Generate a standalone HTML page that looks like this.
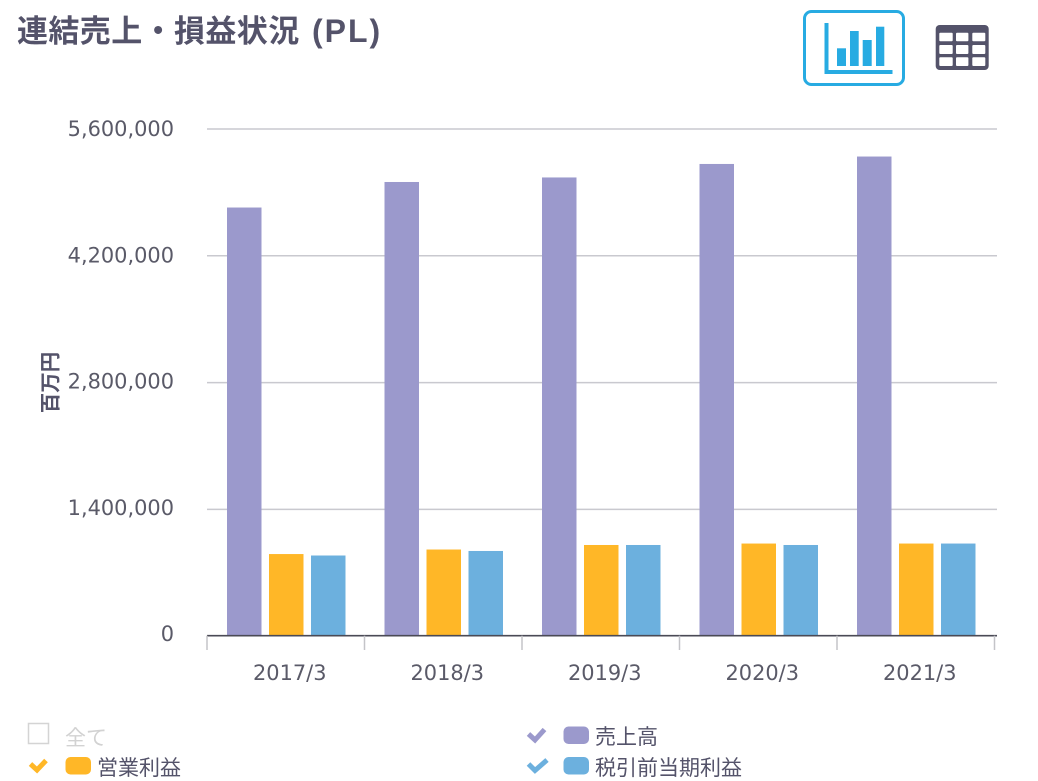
<!DOCTYPE html>
<html lang="ja">
<head>
<meta charset="utf-8">
<title>連結売上・損益状況 (PL)</title>
<style>
html,body{margin:0;padding:0;background:#fff;width:1038px;height:781px;overflow:hidden}
svg{position:absolute;left:0;top:0;display:block}
text{font-family:"Liberation Sans","Noto Sans CJK JP",sans-serif;fill:#54536a}
.num{font-family:"DejaVu Sans",sans-serif;font-size:20.9px;fill:#5a5a68}
</style>
</head>
<body>
<svg id="chart" width="1038" height="781" viewBox="0 0 1038 781" xmlns="http://www.w3.org/2000/svg">
  <text x="17" y="42" font-size="31" font-weight="700" letter-spacing="0.4">連結売上・損益状況<tspan x="312" font-size="32" letter-spacing="2">(PL)</tspan></text>

  <g>
    <rect x="804.5" y="11.5" width="99" height="73" rx="7" fill="#fff" stroke="#27abe2" stroke-width="3"/>
    <path d="M824.500 23V74H892.500V70H828.500V23Z" fill="#27abe2"/>
    <rect x="837" y="48.300" width="9" height="17.700" fill="#27abe2"/>
    <rect x="850" y="31" width="8.700" height="35" fill="#27abe2"/>
    <rect x="862.700" y="40" width="9" height="26" fill="#27abe2"/>
    <rect x="876" y="26.700" width="8.300" height="39.300" fill="#27abe2"/>
  </g>
  <g>
    <rect x="935.700" y="25" width="53" height="45" rx="4" fill="#54536a"/>
    <g fill="#fff">
      <rect x="939.300" y="32.700" width="13.400" height="8.600" rx="1"/><rect x="956" y="32.700" width="12.400" height="8.600" rx="1"/><rect x="972.300" y="32.700" width="13" height="8.600" rx="1"/>
      <rect x="939.300" y="45" width="13.400" height="9" rx="1"/><rect x="956" y="45" width="12.400" height="9" rx="1"/><rect x="972.300" y="45" width="13" height="9" rx="1"/>
      <rect x="939.300" y="57.300" width="13.400" height="8.700" rx="1"/><rect x="956" y="57.300" width="12.400" height="8.700" rx="1"/><rect x="972.300" y="57.300" width="13" height="8.700" rx="1"/>
    </g>
  </g>

  <g id="grid"></g>
  <g id="yticks"></g>
  <text transform="translate(57.500,382.500) rotate(-90)" text-anchor="middle" font-size="20.500" font-weight="700">百万円</text>
  <g id="bars"></g>
  <g id="xaxis"></g>

  <g>
    <rect x="28.500" y="723.500" width="20" height="20" fill="#fff" stroke="#d4d4d4" stroke-width="1.500"/>
    <text x="65" y="745" font-size="21" style="fill:#d2d2d2">全て</text>
  </g>
  <g>
    <path d="M30.500 764L37 770L46 760.500" fill="none" stroke="#ffb727" stroke-width="5"/>
    <rect x="65.500" y="757" width="25.500" height="17.500" rx="5" fill="#ffb727"/>
    <text x="97" y="775" font-size="21">営業利益</text>
  </g>
  <g>
    <path d="M528.500 734L535 740L544.500 729.500" fill="none" stroke="#9b99cc" stroke-width="5"/>
    <rect x="563.500" y="726.500" width="25.500" height="17.500" rx="5" fill="#9b99cc"/>
    <text x="595" y="744" font-size="21">売上高</text>
  </g>
  <g>
    <path d="M528.500 764L535 770.500L547 760" fill="none" stroke="#6cb0de" stroke-width="5"/>
    <rect x="563.500" y="757" width="25.500" height="17.500" rx="5" fill="#6cb0de"/>
    <text x="595" y="775" font-size="21">税引前当期利益</text>
  </g>
</svg>
<script>
const categories = ['2017/3', '2018/3', '2019/3', '2020/3', '2021/3'];
const sales = [4733000, 5015000, 5065000, 5214000, 5296000];
const operatingProfit = [907000, 957000, 1007000, 1023000, 1023000];
const pretaxProfit = [891000, 941000, 1007000, 1007000, 1023000];
const yTickValues = [0, 1400000, 2800000, 4200000, 5600000];
const yTickLabels = ['0', '1,400,000', '2,800,000', '4,200,000', '5,600,000'];

const NS = 'http://www.w3.org/2000/svg';
const plotLeft = 207, plotRight = 994.5, gridRight = 997, scaleBaseY = 636.2, topY = 129, axisY = 635.7, barBottom = 636, yMax = 5600000;
const labelBaseY = 641, labelTopY = 136;
const bandWidth = (plotRight - plotLeft) / categories.length;
const barWidth = 34.5, barOffset = 20, barStep = 42;
function yScale(v) { return scaleBaseY - (v / yMax) * (scaleBaseY - topY); }
function yLabelScale(v) { return labelBaseY - (v / yMax) * (labelBaseY - labelTopY); }
function xBand(i) { return plotLeft + i * bandWidth; }
function mk(tag, attrs, parent, text) {
  const el = document.createElementNS(NS, tag);
  for (const k in attrs) el.setAttribute(k, attrs[k]);
  if (text !== undefined) el.textContent = text;
  parent.appendChild(el);
  return el;
}
const grid = document.getElementById('grid');
const yticks = document.getElementById('yticks');
const barsG = document.getElementById('bars');
const xaxis = document.getElementById('xaxis');

yTickValues.forEach(function (v, i) {
  const y = yScale(v);
  if (v !== 0) {
    const line = mk('line', { x1: plotLeft, x2: gridRight, y1: y, y2: y, stroke: '#c9c9cf', 'stroke-width': 1.5 }, grid);
    
    
  }
  const label = mk('text', { x: 174, y: yLabelScale(v), 'text-anchor': 'end', 'class': 'num' }, yticks, yTickLabels[i]);
  
  
});

const seriesList = [
  { values: sales, color: '#9b99cc' },
  { values: operatingProfit, color: '#ffb727' },
  { values: pretaxProfit, color: '#6cb0de' }
];
seriesList.forEach(function (s, si) {
  s.values.forEach(function (v, i) {
    const y = yScale(v);
    const bar = mk('rect', { x: xBand(i) + barOffset + si * barStep, y: y, width: barWidth, height: barBottom - y, fill: s.color }, barsG);
    
    
  });
});

const axisLine = mk('line', { x1: plotLeft, x2: gridRight, y1: axisY, y2: axisY, stroke: '#4a4a55', 'stroke-width': 1.7 }, xaxis);


for (let i = 0; i <= categories.length; i++) {
  const tick = mk('line', { x1: xBand(i), x2: xBand(i), y1: axisY, y2: 650, stroke: '#c4c4c8', 'stroke-width': 1.5 }, xaxis);
  
  
}
categories.forEach(function (c, i) {
  const label = mk('text', { x: xBand(i) + bandWidth / 2 + 4, y: 680, 'text-anchor': 'middle', 'class': 'num' }, xaxis, c);
  
  
});
</script>
</body>
</html>
